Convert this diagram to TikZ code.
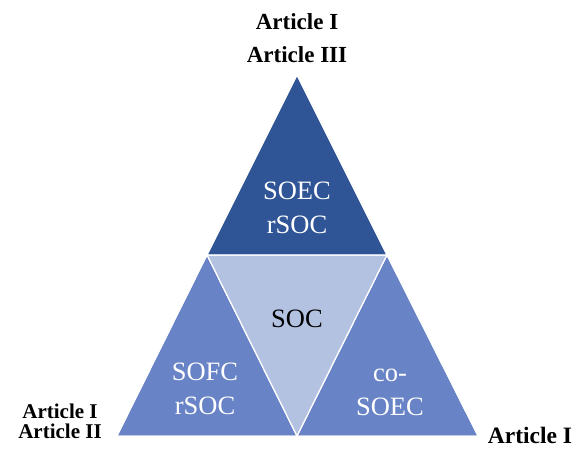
\documentclass[tikz,border=0pt]{standalone}
\usepackage{fontspec}
\setmainfont{Liberation Serif}
\definecolor{darkblue}{RGB}{47,85,151}
\definecolor{midblue}{RGB}{104,131,198}
\definecolor{lightblue}{RGB}{180,194,226}
\begin{document}
\begin{tikzpicture}[x=1pt,y=-1pt,
  tri/.style={draw=white,line width=1pt,line join=miter},
  inner/.style={align=center,inner sep=0pt,font=\fontsize{26.5}{34}\selectfont},
  art/.style={align=center,inner sep=0pt,font=\bfseries\fontsize{23}{33}\selectfont}]
\useasboundingbox (0,0) rectangle (574,450);
\coordinate (A) at (297,75);
\coordinate (L) at (117,436);
\coordinate (R) at (478,436);
\coordinate (ML) at (207,255);
\coordinate (MR) at (387,255);
\coordinate (MB) at (297,436);
\fill[tri,fill=darkblue] (A) -- (ML) -- (MR) -- cycle;
\fill[tri,fill=midblue] (ML) -- (L) -- (MB) -- cycle;
\fill[tri,fill=midblue] (MR) -- (MB) -- (R) -- cycle;
\fill[tri,fill=lightblue] (ML) -- (MR) -- (MB) -- cycle;
\draw[tri] (A) -- (ML) -- (MR) -- cycle;
\draw[tri] (ML) -- (L) -- (MB) -- cycle;
\draw[tri] (MR) -- (MB) -- (R) -- cycle;
\node[inner,text=white] (soec) at (297,208) {SOEC\\rSOC};
\node[inner,text=black] (soc) at (297,318.5) {SOC};
\node[inner,text=white] (sofc) at (205,389) {SOFC\\rSOC};
\node[inner,text=white] (cosoec) at (390,392.5) {co-\\SOEC};
\node[art] (top) at (297,38) {Article I\\Article III};
\node[art,font=\bfseries\fontsize{21}{20}\selectfont] (left) at (60,421) {Article I\\Article II};
\node[art,font=\bfseries\fontsize{23.5}{26}\selectfont,anchor=base] (right) at (530,443) {Article I};
\end{tikzpicture}
\end{document}
